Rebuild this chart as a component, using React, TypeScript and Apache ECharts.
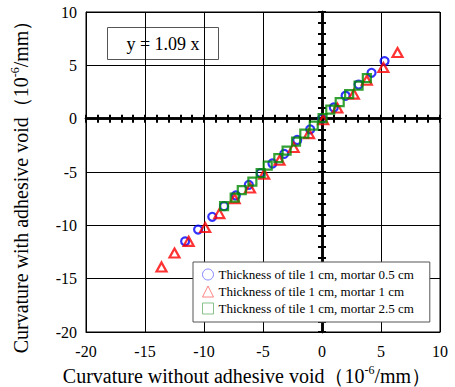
import React, { useEffect, useRef } from "react";
import * as echarts from "echarts";

const blueX = [-11.6, -10.5, -9.3, -8.3, -7.3, -6.2, -5.2, -4.2, -3.2, -2.1, -1.0, 0.0, 1.0, 2.0, 3.1, 4.2, 5.3];
const blueY = [-11.5, -10.4, -9.2, -8.2, -7.2, -6.2, -5.1, -4.2, -3.3, -2.0, -1.0, 0.0, 1.05, 2.15, 3.2, 4.3, 5.4];
const redX = [-13.6, -12.5, -11.3, -9.9, -8.7, -7.4, -6.1, -4.9, -3.6, -2.4, -1.1, 0.1, 1.3, 2.7, 3.8, 5.2, 6.4];
const redY = [-13.9, -12.6, -11.5, -10.2, -8.9, -7.5, -6.5, -5.2, -3.9, -2.7, -1.4, -0.1, 1.0, 2.3, 3.6, 4.8, 6.2];
const greenX = [-8.3, -7.4, -6.8, -5.9, -5.2, -4.6, -3.7, -3.0, -2.2, -1.5, -0.7, 0.05, 0.7, 1.5, 2.3, 3.1, 3.8];
const greenY = [-8.2, -7.4, -6.7, -5.9, -5.1, -4.4, -3.7, -3.0, -2.15, -1.4, -0.66, 0.05, 0.84, 1.56, 2.3, 3.1, 3.8];

const seriesNames = [
  "Thickness of tile 1 cm, mortar 0.5 cm",
  "Thickness of tile 1 cm, mortar 1 cm",
  "Thickness of tile 1 cm, mortar 2.5 cm",
];
const fitLabel = "y = 1.09 x";
const xTitle = "{a|Curvature without adhesive void（10}{s|-6}{a|/mm）}";
const yTitle = "{a|Curvature with adhesive void（10}{s|-6}{a|/mm）}";

const FONT = "'Liberation Serif', 'Times New Roman', serif";

const pairs = (xs: number[], ys: number[]) => xs.map((x, i) => [x, ys[i]]);

const titleRich = {
  a: { fontFamily: FONT, fontSize: 20, lineHeight: 24, color: "#000" },
  s: { fontFamily: FONT, fontSize: 12, lineHeight: 14, verticalAlign: "top", color: "#000" },
};

export default function App() {
  const ref = useRef<HTMLDivElement>(null);
  useEffect(() => {
    if (!ref.current) return;
    const chart = echarts.init(ref.current, null, { renderer: "svg" });
    const zeroAxisBase = {
      type: "value",
      min: -20,
      max: 10,
      interval: 1,
      axisLabel: { show: false },
      splitLine: { show: false },
      axisLine: { show: true, onZero: true, onZeroAxisIndex: 1, lineStyle: { color: "#000", width: 2.5 } },
      axisTick: { show: true, length: 4, lineStyle: { color: "#000", width: 2 } },
    };
    const option: any = {
      animation: false,
      backgroundColor: "#fff",
      grid: {
        left: 86,
        right: 15,
        top: 12,
        bottom: 55,
        containLabel: false,
        outerBoundsMode: "none",
        show: true,
        borderColor: "#000",
        borderWidth: 1,
        backgroundColor: "transparent",
      },
      xAxis: [
        {
          type: "value",
          min: -20,
          max: 10,
          interval: 5,
          position: "bottom",
          axisLine: { show: true, onZero: false, lineStyle: { color: "#000", width: 1 } },
          axisTick: { show: false },
          axisLabel: { color: "#000", fontFamily: FONT, fontSize: 16, margin: 11 },
          splitLine: { show: true, lineStyle: { color: "#000", width: 1 } },
          name: xTitle,
          nameLocation: "middle",
          nameGap: 27,
          nameTextStyle: { rich: titleRich, padding: [0, 32, 0, 0] },
        },
        { ...zeroAxisBase, position: "bottom", axisTick: { ...zeroAxisBase.axisTick, inside: true } },
        { ...zeroAxisBase, position: "bottom", axisTick: { ...zeroAxisBase.axisTick, inside: false } },
      ],
      yAxis: [
        {
          type: "value",
          min: -20,
          max: 10,
          interval: 5,
          position: "left",
          axisLine: { show: true, onZero: false, lineStyle: { color: "#000", width: 1 } },
          axisTick: { show: false },
          axisLabel: { color: "#000", fontFamily: FONT, fontSize: 16, margin: 9 },
          splitLine: { show: true, lineStyle: { color: "#000", width: 1 } },
          name: yTitle,
          nameLocation: "middle",
          nameGap: 53,
          nameTextStyle: { rich: titleRich, padding: [0, 20, 0, 0] },
        },
        { ...zeroAxisBase, position: "left", axisTick: { ...zeroAxisBase.axisTick, inside: true } },
        { ...zeroAxisBase, position: "left", axisTick: { ...zeroAxisBase.axisTick, inside: false } },
      ],
      legend: {
        show: true,
        orient: "vertical",
        left: 193,
        top: 262,
        backgroundColor: "#fff",
        borderColor: "#555",
        borderWidth: 1,
        borderRadius: 0,
        padding: [6, 16, 7, 9],
        itemGap: 4,
        itemWidth: 11,
        itemHeight: 11,
        itemTextGap: 2,
        textStyle: { fontFamily: FONT, fontSize: 13, color: "#000" },
        data: [
          { name: seriesNames[0], icon: "circle", itemStyle: { color: "transparent", borderColor: "#6a6aff", borderWidth: 1 } },
          { name: seriesNames[1], icon: "triangle", itemStyle: { color: "transparent", borderColor: "#ff6666", borderWidth: 1 } },
          { name: seriesNames[2], icon: "rect", itemStyle: { color: "transparent", borderColor: "#6bb26b", borderWidth: 1 } },
        ],
      },
      graphic: [
        {
          type: "group",
          left: 107,
          top: 27,
          z: 100,
          children: [
            {
              type: "rect",
              shape: { x: 0, y: 0, width: 111, height: 32 },
              style: { fill: "#fff", stroke: "#555", lineWidth: 1 },
            },
            {
              type: "text",
              x: 55.5,
              y: 16,
              style: {
                text: fitLabel,
                fontFamily: FONT,
                fontSize: 18,
                fill: "#000",
                align: "center",
                verticalAlign: "middle",
              },
            },
          ],
        },
      ],
      series: [
        {
          name: seriesNames[0],
          type: "scatter",
          xAxisIndex: 0,
          yAxisIndex: 0,
          symbol: "circle",
          symbolSize: 8,
          itemStyle: { color: "transparent", borderColor: "#0000ff", borderWidth: 2.2 },
          data: pairs(blueX, blueY),
          z: 3,
        },
        {
          name: seriesNames[1],
          type: "scatter",
          xAxisIndex: 0,
          yAxisIndex: 0,
          symbol: "triangle",
          symbolSize: [10, 9],
          itemStyle: { color: "transparent", borderColor: "#ff0000", borderWidth: 2.2 },
          data: pairs(redX, redY),
          z: 4,
        },
        {
          name: seriesNames[2],
          type: "scatter",
          xAxisIndex: 0,
          yAxisIndex: 0,
          symbol: "rect",
          symbolSize: 8,
          itemStyle: { color: "transparent", borderColor: "#008a00", borderWidth: 2.2 },
          data: pairs(greenX, greenY),
          z: 5,
        },
      ],
    };
    chart.setOption(option);
    return () => chart.dispose();
  }, []);
  return (
    <div
      ref={ref}
      style={{ position: "fixed", left: 0, top: 0, width: 455, height: 387, background: "#fff" }}
    />
  );
}
